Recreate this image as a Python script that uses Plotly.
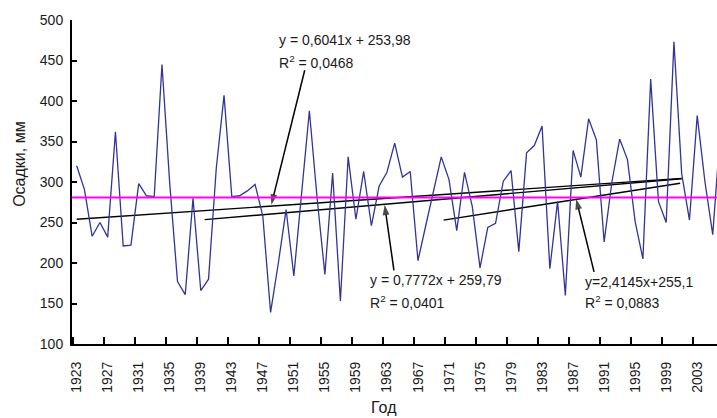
import plotly.graph_objects as go

# ---- data ----
years = list(range(1923, 2007))
precip = [320, 291, 233, 250, 232, 362, 221, 222, 298, 283,
          282, 445, 298, 177, 161, 280, 166, 180, 317, 407,
          282, 283, 289, 297, 258, 139, 200, 266, 184, 285,
          388, 280, 186, 311, 153, 331, 254, 313, 246, 295,
          312, 348, 306, 313, 203, 246, 290, 331, 303, 240,
          312, 270, 194, 244, 249, 301, 314, 214, 336, 345,
          369, 193, 276, 160, 339, 306, 378, 352, 226, 300,
          353, 328, 251, 205, 427, 276, 250, 473, 310, 253,
          382, 300, 235, 365]
mean_level = 281

# trend lines (start/end)
trend_x0 = [1923, 1939.5, 1970.3]
trend_x1 = [2001, 2001, 2000.8]
trend_y0 = [254, 253.5, 253]
trend_y1 = [304.5, 304, 298.5]
trend_eq = ["y = 0,6041x + 253,98", "y = 0,7772x + 259,79", "y=2,4145x+255,1"]
trend_r2 = ["R<sup>2</sup> = 0,0468", "R<sup>2</sup> = 0,0401", "R<sup>2</sup> = 0,0883"]
# label positions (left x year, line1 y, line2 y)
label_x = [1948.8, 1960.6, 1988.3]
label_y1 = [475, 179, 177]
label_y2 = [448, 152, 152]
# arrows: tail -> tip
arrow_tail_x = [1952.4, 1963.9, 1989.7]
arrow_tail_y = [438, 191, 189]
arrow_tip_x = [1948.1, 1962.7, 1987.4]
arrow_tip_y = [272, 272, 279]

tick_years = list(range(1923, 2004, 4))
y_ticks = [100, 150, 200, 250, 300, 350, 400, 450, 500]

FONT = "Liberation Sans, Arial, sans-serif"
TXT = "#1a1a1a"

fig = go.Figure()

for i in range(3):
    fig.add_trace(go.Scatter(
        x=[trend_x0[i], trend_x1[i]], y=[trend_y0[i], trend_y1[i]],
        mode="lines", line=dict(color="black", width=1.4),
        hoverinfo="skip", showlegend=False))

fig.add_trace(go.Scatter(
    x=years, y=precip, mode="lines",
    line=dict(color="#333399", width=1.3),
    showlegend=False))

fig.add_shape(type="line", xref="paper", x0=0, x1=1, yref="y",
              y0=mean_level, y1=mean_level,
              line=dict(color="#FF00FF", width=2))

# arrows drawn as line + arrow marker at the tip
for i in range(3):
    fig.add_trace(go.Scatter(
        x=[arrow_tail_x[i], arrow_tip_x[i]], y=[arrow_tail_y[i], arrow_tip_y[i]],
        mode="lines+markers", line=dict(color="black", width=1.5),
        marker=dict(symbol="arrow", size=[0, 11], angleref="previous",
                    color="black", line=dict(width=0)),
        hoverinfo="skip", showlegend=False, cliponaxis=False))

annotations = []
for i in range(3):
    annotations.append(dict(x=label_x[i], y=label_y1[i], xref="x", yref="y",
                            text=trend_eq[i], showarrow=False,
                            xanchor="left", yanchor="middle",
                            font=dict(family=FONT, size=14, color=TXT)))
    annotations.append(dict(x=label_x[i], y=label_y2[i], xref="x", yref="y",
                            text=trend_r2[i], showarrow=False,
                            xanchor="left", yanchor="middle",
                            font=dict(family=FONT, size=14, color=TXT)))

annotations.append(dict(x=-0.0806, y=0.556, xref="paper", yref="paper",
                        text="Осадки, мм", textangle=-90, showarrow=False,
                        xanchor="center", yanchor="middle",
                        font=dict(family=FONT, size=16, color=TXT)))
annotations.append(dict(x=0.4837, y=-0.197, xref="paper", yref="paper",
                        text="Год", showarrow=False,
                        xanchor="center", yanchor="middle",
                        font=dict(family=FONT, size=16, color=TXT)))

fig.update_layout(
    width=717, height=418,
    margin=dict(l=72, r=0, t=20, b=74, autoexpand=False),
    paper_bgcolor="white", plot_bgcolor="white",
    font=dict(family=FONT, size=14, color=TXT),
    annotations=annotations,
    showlegend=False,
)

fig.update_xaxes(
    range=[1922.4, 2005.55], automargin=False,
    tickmode="array", tickvals=tick_years,
    ticktext=[str(y) for y in tick_years],
    tickangle=-90, ticks="", ticklabelstandoff=10,
    tickfont=dict(family=FONT, size=14, color=TXT),
    showline=True, linecolor="black", linewidth=2,
    showgrid=False, zeroline=False,
    minor=dict(ticks="inside", ticklen=7, tickwidth=1.5, tickcolor="black",
               tickmode="linear", tick0=1926.5, dtick=4, showgrid=False),
)
fig.update_yaxes(
    range=[100, 500], automargin=False,
    tickmode="array", tickvals=y_ticks,
    ticks="inside", ticklen=5, tickwidth=1.5, tickcolor="black",
    ticklabelstandoff=4,
    tickfont=dict(family=FONT, size=14, color=TXT),
    showline=True, linecolor="black", linewidth=2,
    showgrid=False, zeroline=False,
)

fig.write_html(
    "out.html",
    config={"displayModeBar": False},
    post_script="document.body.style.margin='0';"
                "document.documentElement.style.overflow='hidden';"
                "document.body.style.overflow='hidden';",
)
